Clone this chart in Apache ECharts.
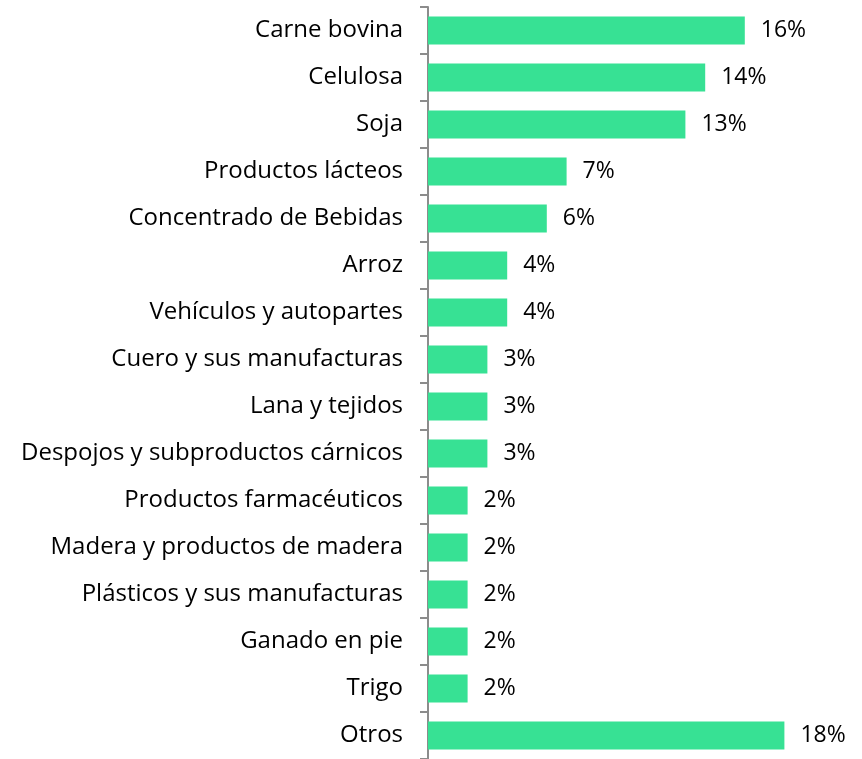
<!DOCTYPE html>
<html>
<head>
<meta charset="utf-8">
<script src="https://cdn.jsdelivr.net/npm/echarts@6/dist/echarts.min.js"></script>
<style>
  html, body { margin: 0; padding: 0; background: #fff; }
  #chart { width: 862px; height: 759px; }
</style>
</head>
<body>
<div id="chart"></div>
<script>
var categories = ['Carne bovina', 'Celulosa', 'Soja', 'Productos lácteos', 'Concentrado de Bebidas',
    'Arroz', 'Vehículos y autopartes', 'Cuero y sus manufacturas', 'Lana y tejidos',
    'Despojos y subproductos cárnicos', 'Productos farmacéuticos', 'Madera y productos de madera',
    'Plásticos y sus manufacturas', 'Ganado en pie', 'Trigo', 'Otros'];
var shares = [16, 14, 13, 7, 6, 4, 4, 3, 3, 3, 2, 2, 2, 2, 2, 18];

var myChart = echarts.init(document.getElementById('chart'));
var option = {
    animation: false,
    grid: {
        top: 7,
        left: 428,
        right: 38,
        bottom: 0
    },
    xAxis: {
        type: 'value',
        min: 0,
        max: 20,
        show: false
    },
    yAxis: {
        type: 'category',
        inverse: true,
        data: categories,
        axisLine: {
            lineStyle: { color: '#8c8c8c', width: 2 }
        },
        axisTick: {
            show: true,
            length: 8,
            lineStyle: { color: '#8c8c8c', width: 2 }
        },
        axisLabel: {
            margin: 25,
            color: '#000',
            fontFamily: 'Open Sans',
            fontSize: 24,
            padding: [4, 0, 0, 0]
        }
    },
    series: [
        {
            type: 'bar',
            barWidth: 28,
            itemStyle: { color: '#37e194' },
            label: {
                show: true,
                position: 'right',
                distance: 16,
                color: '#000',
                fontFamily: 'Open Sans',
                fontSize: 23,
                padding: [4, 0, 0, 0],
                formatter: function (p) { return p.value + '%'; }
            },
            data: shares
        }
    ]
};
myChart.setOption(option);
</script>
</body>
</html>
